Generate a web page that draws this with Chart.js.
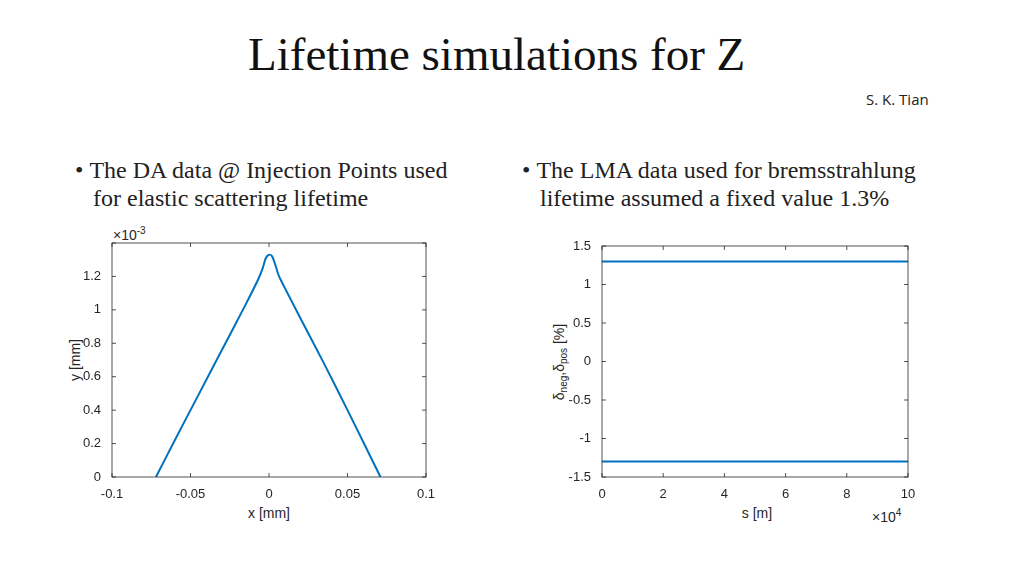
<!DOCTYPE html><html><head><meta charset="utf-8">
<script src="https://cdn.jsdelivr.net/npm/chart.js@4"></script>
<style>
body{margin:0;width:1024px;height:576px;background:#fff;position:relative;overflow:hidden;font-family:"Liberation Serif",serif}
.a{position:absolute;white-space:nowrap}
.t{font-family:'Liberation Sans',sans-serif;font-size:14px;color:#262626}
canvas{position:absolute}
</style></head><body>
<div class="a" style="left:248px;top:27px;font-size:47px;color:#111">Lifetime simulations for Z</div>
<div class="a" style="left:866px;top:89px;font-size:15px;font-family:'Open Sans',sans-serif;color:#222">S. K. Tian</div>
<div class="a" style="left:75px;top:156px;font-size:24px;line-height:28px;color:#222">•&nbsp;The DA data @ Injection Points used<br>&nbsp;&nbsp;&nbsp;for elastic scattering lifetime</div>
<div class="a" style="left:522px;top:156px;font-size:24px;line-height:28px;color:#222">•&nbsp;The LMA data used for bremsstrahlung<br>&nbsp;&nbsp;&nbsp;lifetime assumed a fixed value 1.3%</div>
<div class="a t" style="left:113px;top:225px">×10<sup style="font-size:10px">-3</sup></div>
<div class="a t" style="left:872px;top:507px">×10<sup style="font-size:10px">4</sup></div>
<div class="a t" style="left:269px;top:513px;transform:translate(-50%,-50%)">x [mm]</div>
<div class="a t" style="left:757px;top:513px;transform:translate(-50%,-50%)">s [m]</div>
<div class="a t" style="left:75px;top:360px;transform:translate(-50%,-50%) rotate(-90deg)">y [mm]</div>
<div class="a t" style="left:560px;top:362px;transform:translate(-50%,-50%) rotate(-90deg)">δ<sub style="font-size:10px">neg</sub>,δ<sub style="font-size:10px">pos</sub> [%]</div>
<canvas id="c1" style="left:40px;top:230px" width="400" height="300"></canvas>
<canvas id="c2" style="left:540px;top:230px" width="390" height="300"></canvas>
<script>
const daX=[-0.072,-0.06,-0.045,-0.03,-0.015,-0.007,-0.004,-0.002,0,0.002,0.004,0.006,0.008,0.02,0.035,0.05,0.071];
const daY=[0,0.22,0.49,0.76,1.03,1.18,1.25,1.31,1.33,1.32,1.27,1.21,1.17,0.95,0.68,0.40,0];
const sVals=[0,100000];
const dPos=[1.3,1.3];
const dNeg=[-1.3,-1.3];
const blue='#0072BD',tc='#262626';
const boxPlugin={id:'box',afterDraw(c){const a=c.chartArea,x=c.ctx;x.save();x.strokeStyle='#262626';x.lineWidth=0.8;x.strokeRect(a.left,a.top,a.right-a.left,a.bottom-a.top);
const xs=c.scales.x,ys=c.scales.y;xs.ticks.forEach(t=>{const p=xs.getPixelForValue(t.value);x.beginPath();x.moveTo(p,a.bottom);x.lineTo(p,a.bottom-4);x.moveTo(p,a.top);x.lineTo(p,a.top+4);x.stroke();});
ys.ticks.forEach(t=>{const p=ys.getPixelForValue(t.value);x.beginPath();x.moveTo(a.left,p);x.lineTo(a.left+4,p);x.moveTo(a.right,p);x.lineTo(a.right-4,p);x.stroke();});x.restore();}};
const f={family:'Liberation Sans',size:13};
function mk(id,ds,xo,yo,yw,pad){return new Chart(document.getElementById(id),{type:'scatter',data:{datasets:ds},
options:{responsive:false,animation:false,layout:{padding:pad},plugins:{legend:{display:false},tooltip:{enabled:false}},
scales:{x:Object.assign({type:'linear',grid:{display:false},border:{display:false},afterFit(s){s.height=53}},xo),
y:Object.assign({type:'linear',grid:{display:false},border:{display:false},afterFit(s){s.width=yw}},yo)}},plugins:[boxPlugin]});}
mk('c1',[{data:daX.map((v,i)=>({x:v,y:daY[i]})),showLine:true,borderColor:blue,borderWidth:2,pointRadius:0,tension:0.3}],
{min:-0.1,max:0.1,ticks:{color:tc,font:f,maxRotation:0,stepSize:0.05,padding:2,callback:v=>String(Math.round(v*100)/100)}},
{min:0,max:1.4,ticks:{color:tc,font:f,stepSize:0.2,callback:v=>v>1.3?'':String(Math.round(v*10)/10)}},72,{top:13,right:14,left:0,bottom:0});
mk('c2',[{data:sVals.map((v,i)=>({x:v,y:dPos[i]})),showLine:true,borderColor:blue,borderWidth:2,pointRadius:0},{data:sVals.map((v,i)=>({x:v,y:dNeg[i]})),showLine:true,borderColor:blue,borderWidth:2,pointRadius:0}],
{min:0,max:100000,ticks:{color:tc,font:f,maxRotation:0,stepSize:20000,padding:2,callback:v=>String(v/10000)}},
{min:-1.5,max:1.5,ticks:{color:tc,font:f,stepSize:0.5,callback:v=>String(v)}},62,{top:16,right:22,left:0,bottom:0});
</script></body></html>
